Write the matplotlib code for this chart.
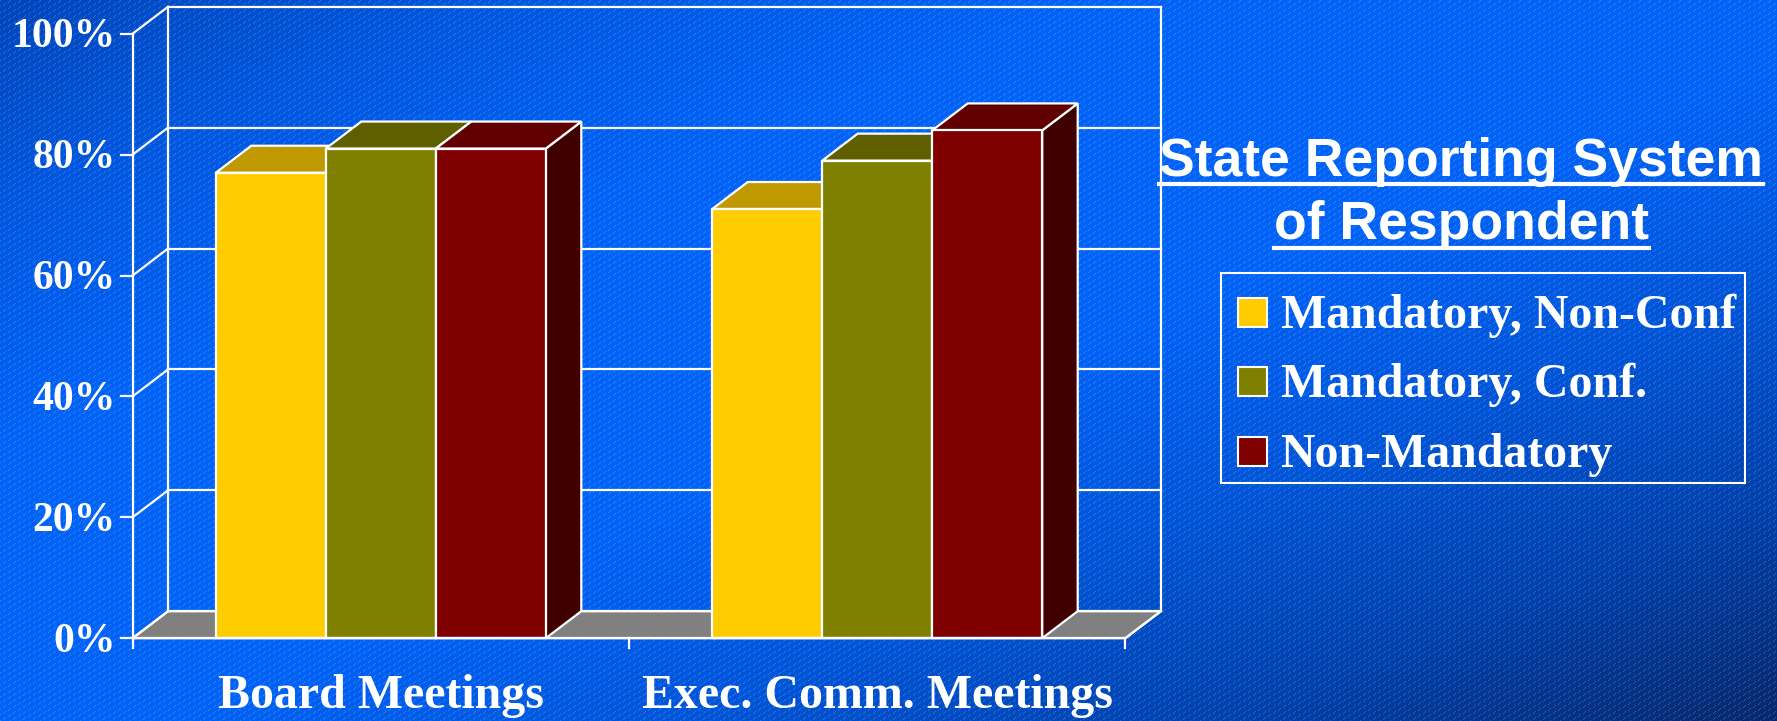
import numpy as np
import matplotlib
matplotlib.use("Agg")
import matplotlib.pyplot as plt
from matplotlib.patches import Polygon, Rectangle
from matplotlib.lines import Line2D

# ---- data -------------------------------------------------------------
categories = ["Board Meetings", "Exec. Comm. Meetings"]
series_names = ["Mandatory, Non-Conf", "Mandatory, Conf.", "Non-Mandatory"]
mandatory_nonconf = [77, 71]
mandatory_conf = [81, 79]
non_mandatory = [81, 84]
y_ticks = [0, 20, 40, 60, 80, 100]
y_tick_labels = ["0%", "20%", "40%", "60%", "80%", "100%"]
legend_title = ["State Reporting System", "of Respondent"]

series_values = [mandatory_nonconf, mandatory_conf, non_mandatory]
front_colors = ["#FFCC00", "#808000", "#800000"]
top_colors = ["#C09900", "#5F5F00", "#600000"]
side_colors = ["#806600", "#404000", "#400000"]

W, H = 1777, 721
fig = plt.figure(figsize=(W / 100, H / 100), dpi=100)

# ---- background: diagonal blue gradient with fine light stripes -------
yy, xx = np.mgrid[0:H, 0:W]
s = (xx / W + yy / H) / 2.0
stops = [0.0, 0.15, 0.3, 0.55, 0.7, 0.85, 1.0]
rs = [0, 0, 0, 0, 0, 0, 8]
gs = [70, 88, 98, 98, 84, 64, 40]
bs = [188, 225, 246, 246, 214, 170, 108]
img = np.dstack([np.interp(s, stops, rs), np.interp(s, stops, gs),
                 np.interp(s, stops, bs)]) / 255.0
stripe = (((xx * 0.6 + yy) % 6) < 1.0) & (((xx + yy) % 2) == 0)
img[stripe] = img[stripe] * 0.8 + 0.2
bg = fig.add_axes([0, 0, 1, 1])
bg.imshow(img, extent=[0, W, H, 0], interpolation="nearest", aspect="auto")
bg.set_xlim(0, W)
bg.set_ylim(H, 0)
bg.axis("off")


def fx(px):
    return px / W


def fy(py):
    return 1 - py / H


# ---- chart axes: x in category units, y in percent ---------------------
x_front0, x_front2 = 132.6, 1125.4
y_front0, y_front100 = 638.2, 33.7
ax = fig.add_axes([fx(x_front0), fy(y_front0),
                   (x_front2 - x_front0) / W, (y_front0 - y_front100) / H])
ax.set_xlim(0, len(categories))
ax.set_ylim(0, 100)
ax.axis("off")
ax.patch.set_alpha(0)

px_per_x = (x_front2 - x_front0) / len(categories)
px_per_y = (y_front0 - y_front100) / 100.0
DX = 35.5 / px_per_x      # depth offset, horizontal
DY = 27.0 / px_per_y      # depth offset, vertical
LW = 1.6
WHITE = "white"
xmax = len(categories)

# floor
ax.add_patch(Polygon([(0, 0), (xmax, 0), (xmax + DX, DY), (DX, DY)],
                     closed=True, facecolor="#808080", edgecolor=WHITE,
                     lw=LW, clip_on=False, zorder=1))

# back wall gridlines, side wall diagonals, wall edges
for v in y_ticks:
    ax.add_line(Line2D([DX, xmax + DX], [v + DY, v + DY], color=WHITE,
                       lw=LW, clip_on=False, zorder=2))
    ax.add_line(Line2D([0, DX], [v, v + DY], color=WHITE, lw=LW,
                       clip_on=False, zorder=2))
for xe in (DX, xmax + DX):
    ax.add_line(Line2D([xe, xe], [DY, 100 + DY], color=WHITE, lw=LW,
                       clip_on=False, zorder=2))
ax.add_line(Line2D([xmax, xmax + DX], [0, DY], color=WHITE, lw=LW,
                   clip_on=False, zorder=2))

# front value axis with ticks and labels
ax.add_line(Line2D([0, 0], [0, 100], color=WHITE, lw=LW, clip_on=False,
                   zorder=6))
tick_x = 12 / px_per_x
for v, lab in zip(y_ticks, y_tick_labels):
    ax.add_line(Line2D([-tick_x, 0], [v, v], color=WHITE, lw=LW,
                       clip_on=False, zorder=6))
    ax.text(-0.034, v - 0.6, lab, ha="right", va="center", color=WHITE,
            fontsize=30, fontweight="bold", family="Liberation Serif",
            clip_on=False)

# category axis line, ticks and labels
ax.add_line(Line2D([0, xmax], [0, 0], color=WHITE, lw=LW, clip_on=False,
                   zorder=6))
tick_y = 10 / px_per_y
for xt in range(len(categories) + 1):
    ax.add_line(Line2D([xt, xt], [0, -tick_y], color=WHITE, lw=LW,
                       clip_on=False, zorder=6))
for i, cat in enumerate(categories):
    ax.text(i + 0.5, -70 / px_per_y, cat, ha="center", va="baseline",
            color=WHITE, fontsize=34.5, fontweight="bold",
            family="Liberation Serif", clip_on=False)

# 3-D looking bars, painted left to right
bar_w = 110 / px_per_x
n = len(series_values)
for i in range(len(categories)):
    start = i + 0.5 - n * bar_w / 2
    for j in range(n):
        v = series_values[j][i]
        x0 = start + j * bar_w
        x1 = x0 + bar_w
        side = Polygon([(x1, 0), (x1 + DX, DY), (x1 + DX, v + DY), (x1, v)],
                       closed=True, facecolor=side_colors[j],
                       edgecolor=WHITE, lw=LW, clip_on=False, zorder=3)
        top = Polygon([(x0, v), (x1, v), (x1 + DX, v + DY), (x0 + DX, v + DY)],
                      closed=True, facecolor=top_colors[j], edgecolor=WHITE,
                      lw=LW, clip_on=False, zorder=3)
        front = Rectangle((x0, 0), bar_w, v, facecolor=front_colors[j],
                          edgecolor=WHITE, lw=LW, clip_on=False, zorder=3)
        for p in (side, top, front):
            ax.add_patch(p)

# ---- legend title with underlines --------------------------------------
title_texts = []
for k, (line, base) in enumerate(zip(legend_title, (176, 239))):
    t = fig.text(fx(1461), fy(base), line, ha="center", va="baseline",
                 color=WHITE, fontsize=38.5, fontweight="bold",
                 family="Liberation Sans")
    title_texts.append(t)

fig.canvas.draw()
renderer = fig.canvas.get_renderer()
for t, uy in zip(title_texts, (184, 248)):
    bb = t.get_window_extent(renderer)
    fig.add_artist(Line2D([bb.x0 / W, bb.x1 / W], [fy(uy), fy(uy)],
                          color=WHITE, lw=3.0, transform=fig.transFigure))

# ---- legend box ---------------------------------------------------------
fig.add_artist(Rectangle((fx(1220.5), fy(482.8)), (1745 - 1220.5) / W,
                         (482.8 - 272.7) / H, transform=fig.transFigure,
                         facecolor="none", edgecolor=WHITE, lw=1.5))
sw = 29
for j, (name, base, cy) in enumerate(zip(series_names, (328, 397, 467),
                                         (312, 381.5, 451.5))):
    fig.add_artist(Rectangle((fx(1237.5), fy(cy + sw / 2)), sw / W, sw / H,
                             transform=fig.transFigure,
                             facecolor=front_colors[j], edgecolor=WHITE,
                             lw=1.5))
    fig.text(fx(1280.6), fy(base), name, ha="left", va="baseline",
             color=WHITE, fontsize=34.5, fontweight="bold",
             family="Liberation Serif")

fig.savefig("out.png", dpi=100)
